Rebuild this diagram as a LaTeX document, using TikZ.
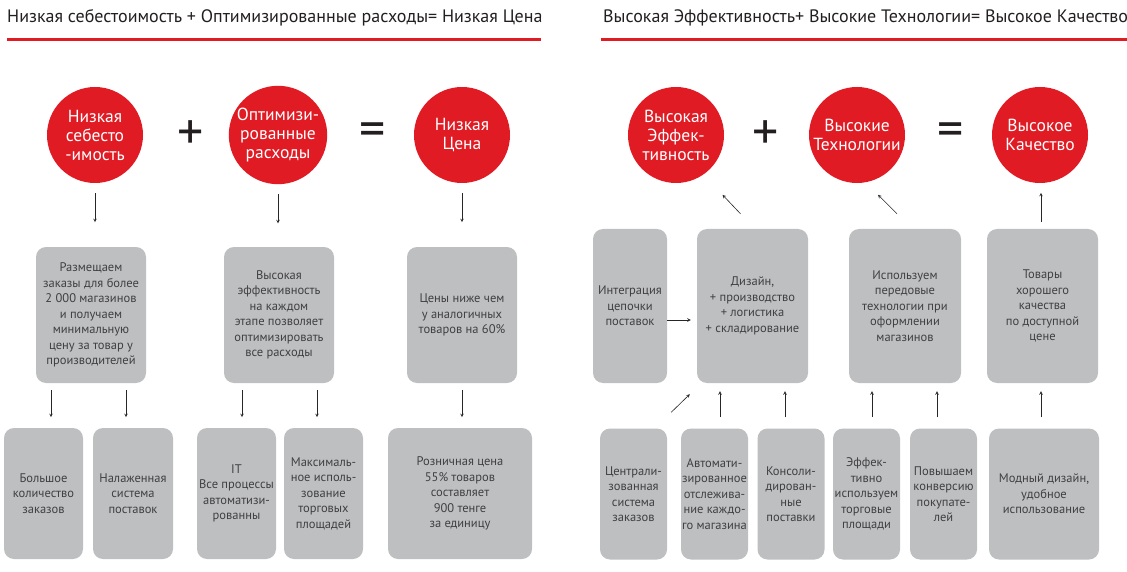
\documentclass[tikz,border=0pt]{standalone}
\usepackage{fontspec}
\setmainfont{PT Sans}
\usetikzlibrary{shapes.geometric, arrows, positioning}
\definecolor{mainred}{RGB}{224,27,36}
\definecolor{boxgray}{RGB}{190,191,193}
\definecolor{textgray}{RGB}{64,64,66}
\definecolor{inkblack}{RGB}{35,31,32}

\begin{document}
\begin{tikzpicture}[x=1pt, y=1pt,
    title/.style={anchor=base west, inner sep=0pt, text=inkblack, font=\fontsize{18}{20}\selectfont},
    circ/.style={circle, fill=mainred, text=white, minimum size=96pt, inner sep=0pt, align=center, font=\fontsize{17.5}{19}\selectfont},
    sign/.style={inner sep=0pt, text=inkblack, font=\fontsize{52}{52}\selectfont},
    box/.style={rectangle, fill=boxgray, text=textgray, rounded corners=10pt, inner sep=0pt, align=center, font=\fontsize{12.5}{15.5}\selectfont},
    midbox/.style={box, minimum width=110pt, minimum height=136pt},
    tallbox/.style={box, minimum height=154pt},
    lowbox/.style={box, minimum height=131pt},
    arrow/.style={->, >=stealth, draw=black!85, semithick}]
    \useasboundingbox (0,0) rectangle (1127,-572);

    % headers
    \node[title] (hleft) at (7,-23) {Низкая себестоимость + Оптимизированные расходы= Низкая Цена};
    \node[title] (hright) at (603,-23) {Высокая Эффективность+ Высокие Технологии= Высокое Качество};
    \draw[mainred, line width=3pt] (7,-40) -- (541,-40);
    \draw[mainred, line width=3pt] (601,-40) -- (1127,-40);

    % left: low price
    \node[circ] (cost) at (95,-135) {Низкая\\себесто\\-имость};
    \node[sign] (plusl) at (191,-135) {+};
    \node[circ] (optim) at (278,-135) {Оптимизи-\\рованные\\расходы};
    \node[sign] (eql) at (373,-135) {=};
    \node[circ] (price) at (462,-135) {Низкая\\Цена};

    \node[midbox] (orders) at (91,-315) {Размещаем\\заказы для более\\2 000 магазинов\\и получаем\\минимальную\\цену за товар у\\производителей};
    \node[midbox] (effic) at (279,-315) {Высокая\\эффективность\\на каждом\\этапе позволяет\\оптимизировать\\все расходы};
    \node[midbox] (cheap) at (462,-315) {Цены ниже чем\\у аналогичных\\товаров на 60\%};

    \node[lowbox, minimum width=79pt] (volume) at (43.5,-493.5) {Большое\\количество\\заказов};
    \node[lowbox, minimum width=80pt] (supply) at (133,-493.5) {Налаженная\\система\\поставок};
    \node[lowbox, minimum width=79pt] (itsys) at (236.5,-493.5) {IT\\Все процессы\\автоматизи-\\рованны};
    \node[lowbox, minimum width=79pt] (space) at (323.5,-493.5) {Максималь-\\ное исполь-\\зование\\торговых\\площадей};
    \node[lowbox, minimum width=144pt] (retail) at (460,-493.5) {Розничная цена\\55\% товаров\\составляет\\900 тенге\\за единицу};

    \draw[arrow] ([yshift=-10pt]cost.south) -- ++(0,-29);
    \draw[arrow] ([yshift=-10pt]optim.south) -- ++(0,-29);
    \draw[arrow] ([yshift=-10pt]price.south) -- ++(0,-29);
    \draw[arrow] ([xshift=-40pt,yshift=-7pt]orders.south) -- ++(0,-27);
    \draw[arrow] ([xshift=35pt,yshift=-7pt]orders.south) -- ++(0,-27);
    \draw[arrow] ([xshift=-37pt,yshift=-7pt]effic.south) -- ++(0,-27);
    \draw[arrow] ([xshift=38pt,yshift=-7pt]effic.south) -- ++(0,-27);
    \draw[arrow] ([yshift=-7pt]cheap.south) -- ++(0,-27);

    % right: high quality
    \node[circ] (effect) at (676,-135) {Высокая\\Эффек-\\тивность};
    \node[sign] (plusr) at (766,-135) {+};
    \node[circ] (tech) at (857,-135) {Высокие\\Технологии};
    \node[sign] (eqr) at (951,-135) {=};
    \node[circ] (quality) at (1040,-135) {Высокое\\Качество};

    \node[tallbox, minimum width=74pt] (chain) at (630,-306) {Интеграция\\цепочки\\поставок};
    \node[tallbox, minimum width=111pt] (design) at (752.5,-306) {Дизайн,\\+ производство\\+ логистика\\+ складирование};
    \node[tallbox, minimum width=112pt] (advtech) at (905,-306) {Используем\\передовые\\технологии при\\оформлении\\магазинов};
    \node[tallbox, minimum width=111pt] (goods) at (1042.5,-306) {Товары\\хорошего\\качества\\по доступной\\цене};

    \node[lowbox, minimum width=67pt] (central) at (633.5,-494) {Централи-\\зованная\\система\\заказов};
    \node[lowbox, minimum width=67pt] (tracking) at (714.5,-494) {Автомати-\\зированное\\отслежива-\\ние каждо-\\го магазина};
    \node[lowbox, minimum width=67pt] (consol) at (791,-494) {Консоли-\\дирован-\\ные\\поставки};
    \node[lowbox, minimum width=67pt] (areas) at (866.5,-494) {Эффек-\\тивно\\используем\\торговые\\площади};
    \node[lowbox, minimum width=67pt] (convert) at (943.5,-494) {Повышаем\\конверсию\\покупате-\\лей};
    \node[lowbox, minimum width=110pt] (fashion) at (1044,-494) {Модный дизайн,\\удобное\\использование};

    \draw[arrow] ([yshift=-14pt]chain.east) -- ([yshift=-14pt,xshift=-6pt]design.west);
    \draw[arrow] ([shift={(-12pt,15pt)}]design.north) -- ++(-18,19);
    \draw[arrow] ([shift={(-8pt,15pt)}]advtech.north) -- ++(-19,19);
    \draw[arrow] ([xshift=-1.5pt,yshift=7pt]goods.north) -- ++(0,29);
    \draw[arrow] ([shift={(4pt,16pt)}]central.north east) -- ([shift={(-7pt,-11pt)}]design.south west);
    \draw[arrow] ([xshift=-32.5pt,yshift=-34pt]design.south) -- ++(0,26);
    \draw[arrow] ([xshift=32.5pt,yshift=-34pt]design.south) -- ++(0,26);
    \draw[arrow] ([xshift=-33pt,yshift=-34pt]advtech.south) -- ++(0,26);
    \draw[arrow] ([xshift=32pt,yshift=-34pt]advtech.south) -- ++(0,26);
    \draw[arrow] ([xshift=-1.5pt,yshift=-34pt]goods.south) -- ++(0,26);
\end{tikzpicture}
\end{document}
